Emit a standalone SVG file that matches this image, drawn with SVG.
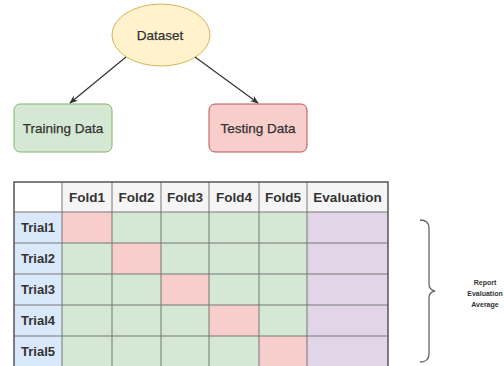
<svg xmlns="http://www.w3.org/2000/svg" width="504" height="366" viewBox="0 0 504 366">
<defs>
<style>
text{font-family:"Liberation Sans",Arial,sans-serif;fill:#333;}
.n{font-size:13.5px;text-anchor:middle;stroke:#333;stroke-width:0.25;}
.h{font-size:13.5px;font-weight:bold;text-anchor:middle;}
.t{font-size:13px;font-weight:bold;text-anchor:middle;}
.s{font-size:7px;font-weight:bold;text-anchor:middle;}
.g{fill:#d5e8d4;}
.r{fill:#f8cecc;}
.p{fill:#e1d5e7;}
.b{fill:#dae8fc;}
.grid{stroke:#777;stroke-width:1;fill:none;}
.edge{stroke:#333;stroke-width:1.2;fill:none;}
</style>
<marker id="arr" viewBox="0 0 10 10" refX="9" refY="5" markerWidth="7" markerHeight="7" orient="auto">
<path d="M0,1 L10,5 L0,9 L3,5 z" fill="#333"/>
</marker>
</defs>
<rect width="504" height="366" fill="#fff"/>
<g id="dataset">
<ellipse cx="161" cy="35" rx="49" ry="31" fill="#fff2cc" stroke="#d6b656" stroke-width="1"/>
<text class="n" x="160" y="40">Dataset</text>
</g>
<g id="training">
<rect x="14" y="104" width="98" height="48" rx="6" fill="#d5e8d4" stroke="#82b366"/>
<text class="n" x="63" y="133">Training Data</text>
</g>
<g id="testing">
<rect x="209" y="104" width="98" height="48" rx="6" fill="#f8cecc" stroke="#b85450"/>
<text class="n" x="258" y="133">Testing Data</text>
</g>
<g id="connectors">
<line class="edge" x1="126" y1="57" x2="70" y2="103" marker-end="url(#arr)"/>
<line class="edge" x1="195" y1="57" x2="258" y2="103" marker-end="url(#arr)"/>
</g>
<g id="table">
<rect x="14" y="182" width="48" height="30" fill="#fff"/>
<rect x="62" y="182" width="326" height="30" fill="#f5f5f5"/>
<rect class="b" x="14" y="212" width="48" height="155"/>
<rect class="p" x="307" y="212" width="81" height="155"/>
<rect class="g" x="62" y="212" width="245" height="155"/>
<rect class="r" x="62" y="212" width="50" height="31"/>
<rect class="r" x="112" y="243" width="49" height="31"/>
<rect class="r" x="161" y="274" width="48" height="31"/>
<rect class="r" x="209" y="305" width="50" height="31"/>
<rect class="r" x="259" y="336" width="48" height="31"/>
<path class="grid" d="M14,212H388M14,243H388M14,274H388M14,305H388M14,336H388M62,182V367M112,182V367M161,182V367M209,182V367M259,182V367M307,182V367"/>
<path d="M14,367V182H388V367" fill="none" stroke="#555" stroke-width="1.5"/>
<text class="h" x="87" y="202">Fold1</text>
<text class="h" x="136.5" y="202">Fold2</text>
<text class="h" x="185" y="202">Fold3</text>
<text class="h" x="234" y="202">Fold4</text>
<text class="h" x="283" y="202">Fold5</text>
<text class="h" x="347.5" y="202">Evaluation</text>
<text class="t" x="38" y="232">Trial1</text>
<text class="t" x="38" y="263">Trial2</text>
<text class="t" x="38" y="294">Trial3</text>
<text class="t" x="38" y="325">Trial4</text>
<text class="t" x="38" y="356">Trial5</text>
</g>
<g id="brace">
<path d="M420,220 Q429,220 429,228 V284 Q429,290 435,291 Q429,292 429,298 V354 Q429,362 420,362" fill="none" stroke="#666" stroke-width="1.3"/>
<text class="s" x="485" y="285">Report</text>
<text class="s" x="485" y="296">Evaluation</text>
<text class="s" x="485" y="307">Average</text>
</g>
</svg>
